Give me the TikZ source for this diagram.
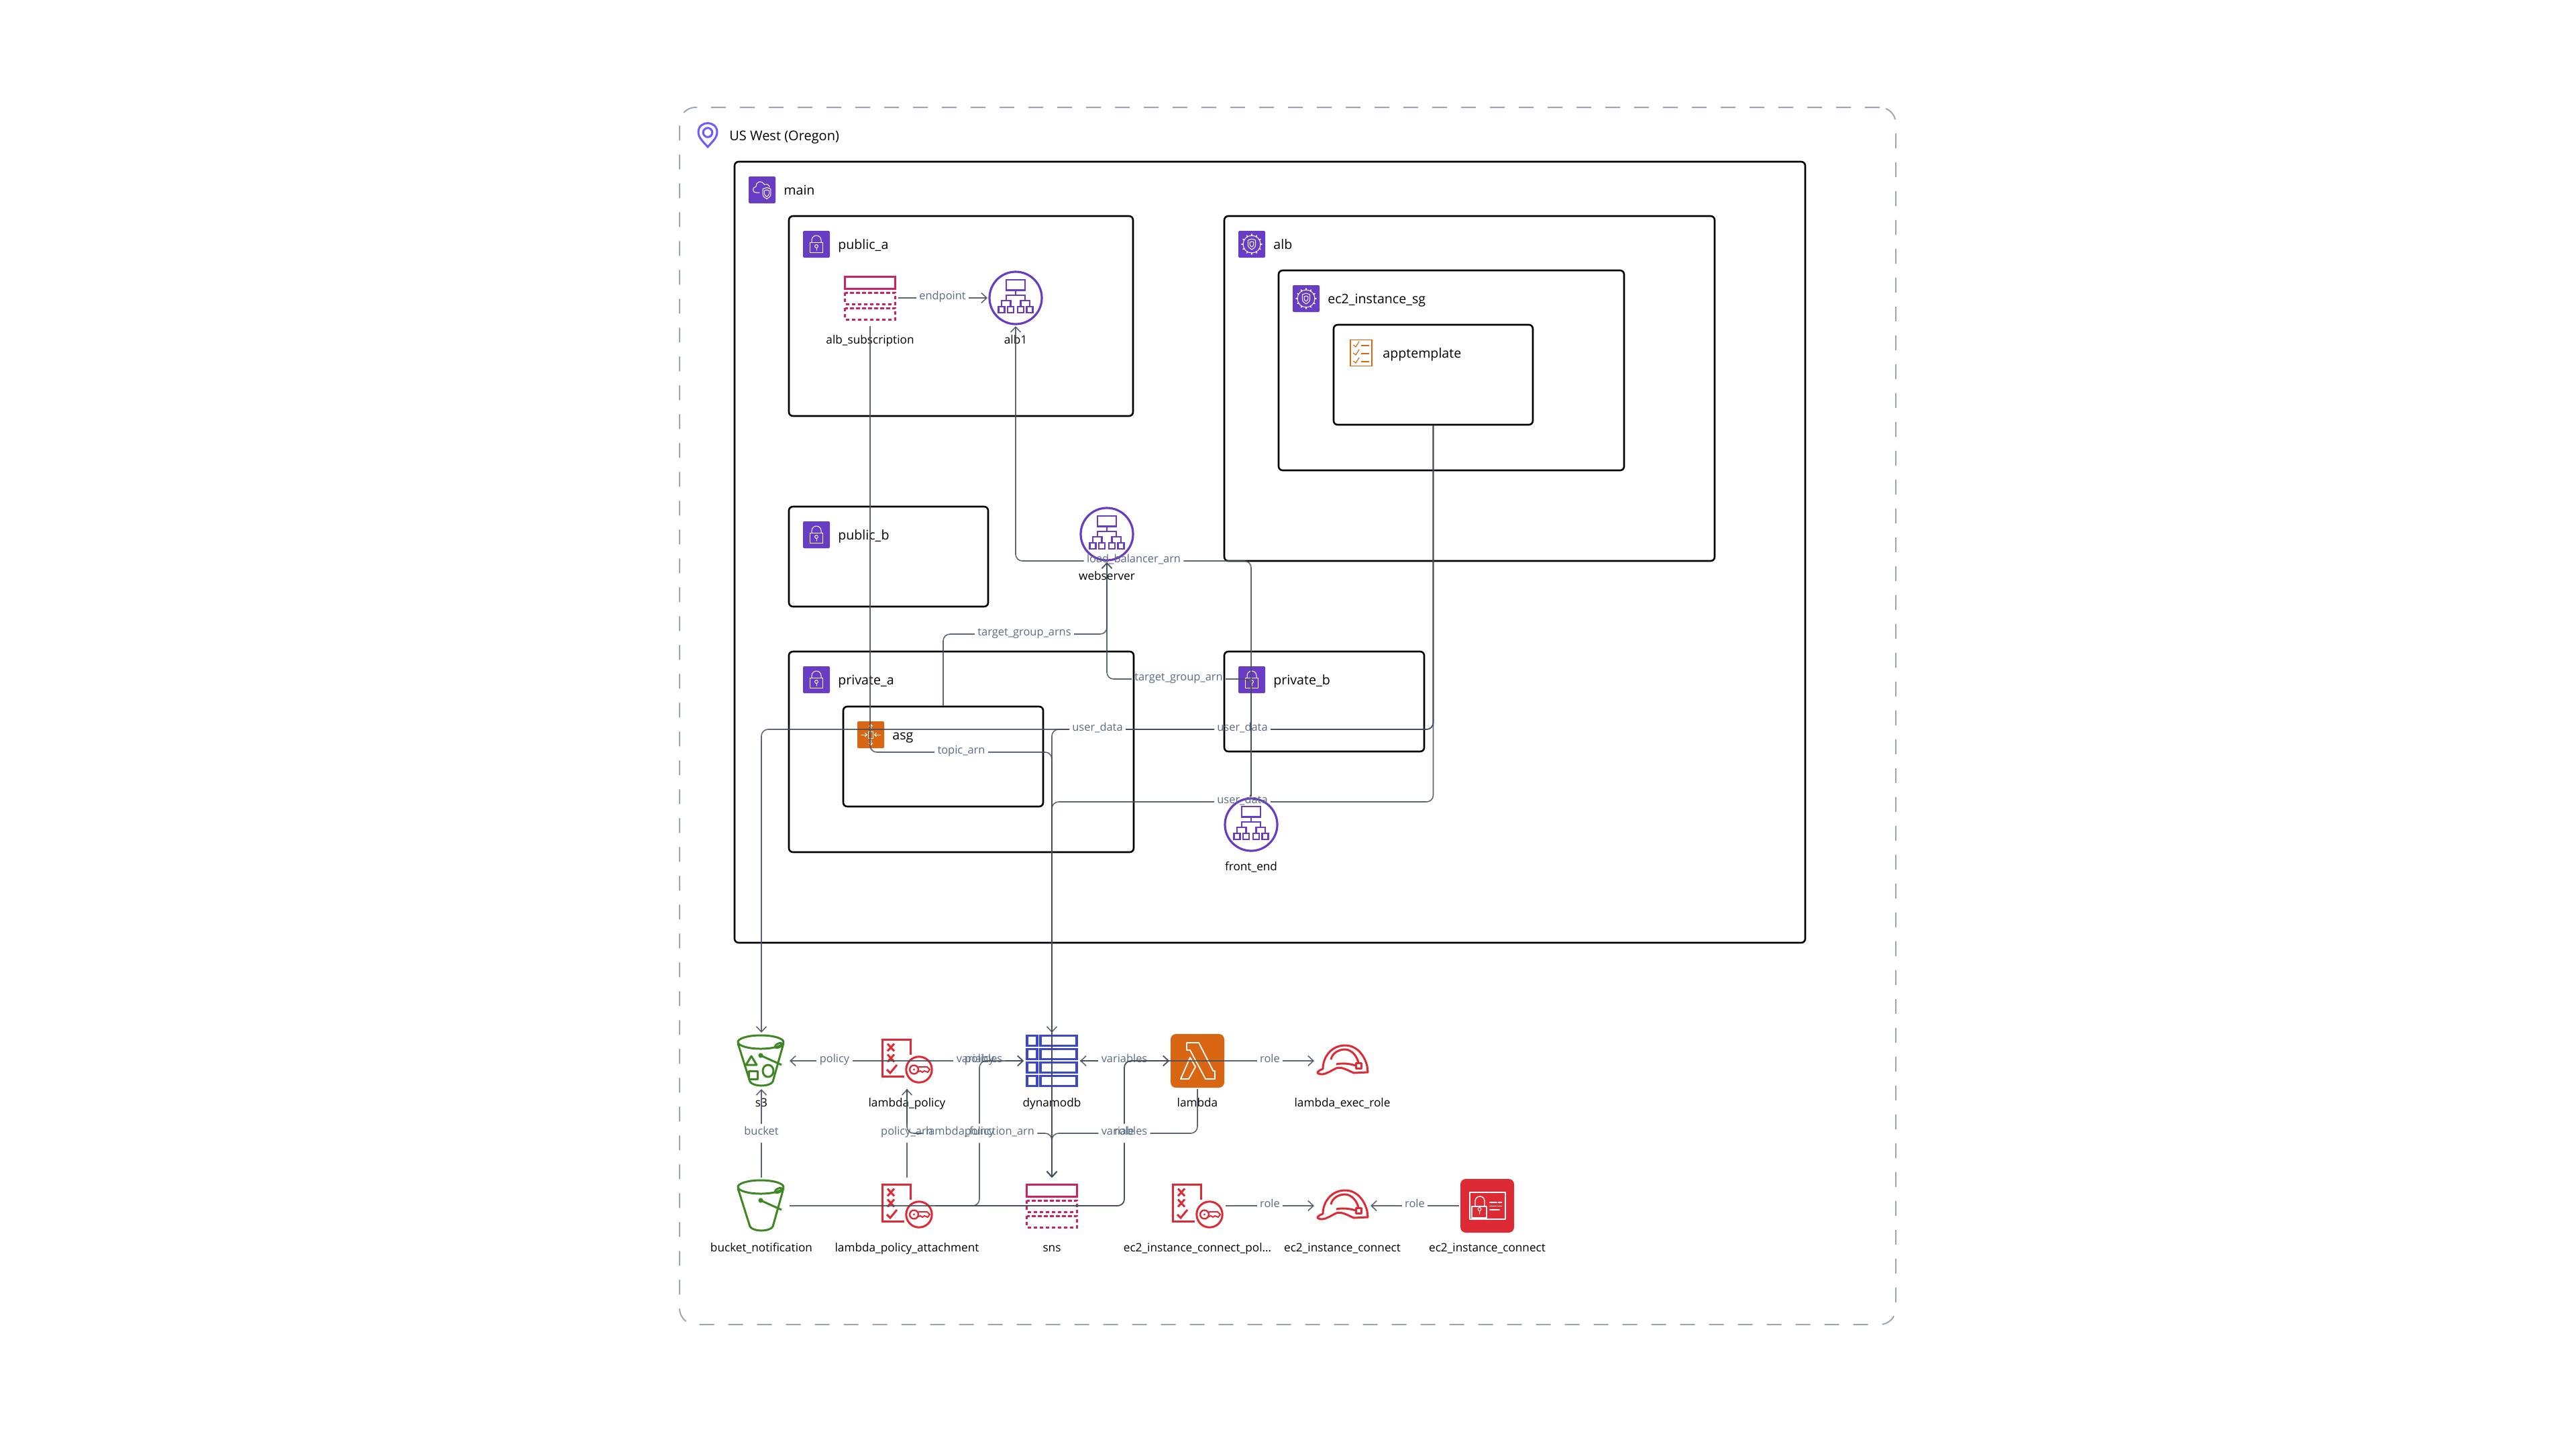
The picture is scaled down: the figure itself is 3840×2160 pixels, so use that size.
\documentclass[tikz,border=0pt]{standalone}
\usepackage{fontspec}
\setmainfont{Open Sans}
\usetikzlibrary{arrows.meta,calc,fit}
\definecolor{awspurple}{HTML}{693CC5}
\definecolor{awsorange}{HTML}{D86613}
\definecolor{awsred}{HTML}{DD2A35}
\definecolor{awspink}{HTML}{CC2264}
\definecolor{awsgreen}{HTML}{3F8624}
\definecolor{awsblue}{HTML}{3B48CC}
\definecolor{edgecol}{HTML}{434C5C}
\definecolor{labelcol}{HTML}{5A6B86}
\definecolor{pincol}{HTML}{6C5CFF}
\tikzset{
    regionbox/.style={draw=black,line width=1.3pt,rounded corners=3pt,inner sep=0pt},
    regionicon/.style={rounded corners=1pt,minimum size=20pt,inner sep=0pt},
    regiontext/.style={anchor=west,inner sep=0pt,text height=8.4pt,text depth=1.2pt,font=\fontsize{9.8}{11}\selectfont},
    resbox/.style={minimum size=40pt,inner sep=0pt,outer sep=1pt},
    restext/.style={inner sep=0pt,yshift=-31pt,text height=7.6pt,text depth=1pt,font=\fontsize{8.6}{10}\selectfont},
    edgelabel/.style={text=labelcol,inner xsep=2pt,inner ysep=2.5pt,text height=5.5pt,text depth=3.5pt,font=\fontsize{8.2}{9}\selectfont},
    edgeline/.style={->,draw=edgecol,draw opacity=.85,line width=.8pt,rounded corners=5pt,>={Straight Barb[length=4pt,width=7.5pt]}},
    glyph/.style={white,line width=.5pt,line join=round,line cap=round},
}
\newcommand\Region[8][awspurple]{%
    \coordinate (#2tl) at (#3,#4);%
    \coordinate (#2br) at (#5,#6);%
    \node[regionbox,fit=(#2tl)(#2br)] (#2) {};%
    \node[regionicon,fill=#1] (#2icon) at ($(#2tl)+(41,42)$) {};%
    \node[regiontext] (#2text) at ($(#2tl)+(73,42)$) {#7};%
    #8{#2icon}%
}
\newcommand\LockIcon[1]{%
    \begin{scope}[shift={(#1.center)},glyph]
        \draw (-9.5,-3) rectangle (9.5,12.5);
        \draw (-7,-3) -- (-7,-6) arc[start angle=180,end angle=0,radius=3.5pt] -- (7,-3);
        \draw (0,3) circle[radius=1.2pt];
        \draw (0,5.5) -- (0,9);
    \end{scope}%
}
\newcommand\ShieldShape{%
    \draw (0,-10) .. controls (-3,-8) .. (-7,-7.5) -- (-7,1) .. controls (-7,6) and (-3,8) .. (0,10)
        .. controls (3,8) and (7,6) .. (7,1) -- (7,-7.5) .. controls (3,-8) .. cycle;%
}
\newcommand\CloudIcon[1]{%
    \begin{scope}[shift={(#1.center)},glyph]
        \draw (-4,4) -- (-9,4) .. controls (-15,4) and (-15,-4) .. (-9,-5)
            .. controls (-9,-13) and (0,-15) .. (3,-8) .. controls (7,-10) and (11,-7) .. (11,-4);
        \begin{scope}[shift={(7,5)},scale=.85]
            \ShieldShape
            \begin{scope}[scale=.6]\ShieldShape\end{scope}
        \end{scope}
    \end{scope}%
}
\newcommand\GearIcon[1]{%
    \begin{scope}[shift={(#1.center)},glyph]
        \draw (0,0) circle[radius=6.5pt];
        \foreach \a in {0,30,...,330} {
            \draw[line width=.8pt] (\a:13) -- (\a:15);
        }
        \begin{scope}[scale=.8]
            \ShieldShape
            \begin{scope}[scale=.5]\ShieldShape\end{scope}
        \end{scope}
    \end{scope}%
}
\newcommand\ScaleIcon[1]{%
    \begin{scope}[shift={(#1.center)},glyph,>={Straight Barb[length=1.5pt,width=3pt]},line width=.5pt]
        \draw (-3.5,-5) rectangle (3.5,5);
        \draw[->] (-14,0) -- (-5,0);
        \draw[->] (14,0) -- (5,0);
        \draw[->] (0,-8) -- (0,-16);
        \draw[->] (0,8) -- (0,16);
    \end{scope}%
}
\newcommand\ListIcon[1]{%
    \begin{scope}[shift={(#1.center)},awsorange,line width=.7pt]
        \draw (-16,-19.5) rectangle (16,19.5);
        \foreach \y in {-12,0,12} {
            \draw[line width=.6pt] (-12,\y) -- (-8,\y+3) -- (-3,\y-5);
            \draw[line width=.8pt] (0,\y+1) -- (12,\y+1);
        }
    \end{scope}%
}
\newcommand\BalancerIcon[1]{%
    \begin{scope}[shift={(#1.center)},awspurple,line width=1.2pt]
        \draw[line width=1.6pt] (0,0) circle[radius=19.5pt];
        \draw (-14,-27) rectangle (14,-11.5);
        \draw (0,-11.5) -- (0,-4) (-14,4) |- (14,-4) -- (14,4);
        \draw (-21,13) |- (-7.5,4) -- (-7.5,13);
        \draw (7.5,13) |- (21,4) -- (21,13);
        \foreach \x in {-21,-7.5,7.5,21} {
            \draw (\x-4.5,13) rectangle (\x+4.5,22);
        }
    \end{scope}%
}
\newcommand\TableIcon[1]{%
    \begin{scope}[shift={(#1.center)},awspink,line width=1.5pt]
        \draw (-37.5,-32) rectangle (37.5,-14);
        \draw[dash pattern=on 2.6pt off 1.9pt] (-37.5,-8) rectangle (37.5,9);
        \draw[dash pattern=on 2.6pt off 1.9pt] (-37.5,15) rectangle (37.5,32);
    \end{scope}%
}
\newcommand\PolicyIcon[1]{%
    \begin{scope}[shift={(#1.center)},awsred,line width=1.5pt]
        \draw (5,-9) -- (5,-32) -- (-37,-32) -- (-37,23) -- (-4,23);
        \draw (18,13) circle[radius=9.6pt];
        \foreach \y in {-20,-4} {
            \draw (-29,\y-5.5) -- (-19,\y+5.5) (-19,\y-5.5) -- (-29,\y+5.5);
        }
        \draw (-30,13) -- (-25,18) -- (-15,6);
        \draw[line width=1.2pt] (10.5,13) circle[radius=3.2pt];
        \fill (10.5,13) circle[radius=.8pt];
        \draw[line width=1pt] (17,9) -- (30,9) -- (34,13) -- (31,17) -- (26,15) -- (23,17) -- (20,15) -- (17,16);
    \end{scope}%
}
\newcommand\BucketIcon[2]{%
    \begin{scope}[shift={(#1.center)},awsgreen,line width=1.5pt,line join=round]
        \draw (-1,-28) ellipse[x radius=17pt,y radius=5pt];
        \draw (-35,-26) -- (-17,31) .. controls (-12,39) and (12,39) .. (17,31) -- (33,-26);
        \fill (-1,-8) circle[radius=1.8pt];
        \draw (-1,-8) -- (30,6);
        \draw[rotate=25] (33,-10) ellipse[x radius=3pt,y radius=1.4pt];
        #2
    \end{scope}%
}
\newcommand\GridIcon[1]{%
    \begin{scope}[shift={(#1.center)},awsblue,line width=1.7pt]
        \foreach \y in {-30,-10,10,30} {
            \draw (-37,\y-7.5) rectangle (-22,\y+7.5);
            \draw (-17,\y-7.5) rectangle (37,\y+7.5);
        }
    \end{scope}%
}
\newcommand\LambdaIcon[1]{%
    \fill[awsorange,rounded corners=4pt] ($(#1.center)+(-40,-40)$) rectangle ($(#1.center)+(40,40)$);%
    \begin{scope}[shift={(#1.center)},glyph,line width=.9pt]
        \draw (-16,-27) -- (2,-27) -- (23.5,15) -- (26,15) -- (26,27) -- (12,27) -- (-11,-16) -- (-16,-16) -- cycle;
        \draw (-11,-5) -- (-3,9) -- (-13,27) -- (-25,27) -- cycle;
    \end{scope}%
}
\newcommand\HelmetIcon[1]{%
    \begin{scope}[shift={(#1.center)},awsred,line width=1.5pt,line join=round]
        \draw (-37,17) .. controls (-35,14) and (-31,13) .. (-29,12) .. controls (-29,-6) and (-16,-23) .. (4,-23)
            .. controls (22,-23) and (33,-8) .. (37,8) -- (38,17) -- (17,18) .. controls (8,14) and (-2,8) .. (-9,11)
            .. controls (-16,14) and (-22,19) .. (-30,20) .. controls (-34,20) and (-37,19) .. (-37,17) -- cycle;
        \draw (-17,-2) .. controls (-15,-12) and (-5,-17) .. (4,-17) .. controls (14,-17) and (23,-6) .. (24,4);
        \draw (-9,5) .. controls (0,3) and (10,4) .. (20,7);
        \draw (20,3) rectangle (28,11);
    \end{scope}%
}
\newcommand\ConnectIcon[1]{%
    \fill[awsred,rounded corners=4pt] ($(#1.center)+(-40,-40)$) rectangle ($(#1.center)+(40,40)$);%
    \begin{scope}[shift={(#1.center)},glyph]
        \draw[line width=.7pt] (-26,-20) rectangle (27,20);
        \draw[line width=.7pt] (-23,1) rectangle (-1,18);
        \draw[line width=.7pt] (-18,1) -- (-18,-7) arc[start angle=180,end angle=0,radius=3.5pt] -- (-4,1);
        \draw (-11.5,5) circle[radius=1.2pt] (-11.5,7.5) -- (-11.5,12);
        \draw[line width=.8pt] (4,-5.3) -- (14,-5.3) (16.5,-5.3) -- (21.5,-5.3);
        \draw[line width=.8pt] (4,.5) -- (13,.5) (15.5,.5) -- (21.5,.5);
        \draw[line width=.8pt] (4,6) -- (18,6);
    \end{scope}%
}

\begin{document}
\begin{tikzpicture}[x=.5pt,y=-.5pt]
\fill[white] (0,0) rectangle (3840,2160);
\coordinate (uswesttl) at (1013,160);
\coordinate (uswestbr) at (2826,1974);
\node[regionbox,draw=labelcol!60,line width=1pt,rounded corners=12pt,dash pattern=on 11pt off 10.5pt,fit=(uswesttl)(uswestbr)] (uswest) {};
\node[regiontext,font=\fontsize{10}{12}\selectfont] (uswesttext) at (1087,202) {US West (Oregon)};
\draw[line width=1.5pt,pincol] (1055,219) .. controls (1048,211) and (1041,205) .. (1041,197)
    .. controls (1041,179) and (1069,179) .. (1069,197) .. controls (1069,205) and (1062,211) .. (1055,219) -- cycle;
\draw[line width=1.5pt,pincol] (1055,197.5) circle[radius=3.4pt];

\Region{main}{1095}{241}{2691}{1405}{main}{\CloudIcon}
\Region{publica}{1176}{322}{1689}{620}{public\_a}{\LockIcon}
\Region{publicb}{1176}{755}{1473}{904}{public\_b}{\LockIcon}
\Region{privatea}{1176}{971}{1690}{1270}{private\_a}{\LockIcon}
\Region{privateb}{1825}{971}{2123}{1120}{private\_b}{\LockIcon}
\Region[awsorange]{asg}{1257}{1053}{1555}{1202}{asg}{\ScaleIcon}
\Region{alb}{1825}{322}{2556}{836}{alb}{\GearIcon}
\Region{ecsg}{1906}{403}{2421}{701}{ec2\_instance\_sg}{\GearIcon}
\Region[white]{apptemplate}{1988}{484}{2285}{633}{apptemplate}{\ListIcon}

\foreach \n/\x/\y/\t in {
    albsub/1297/444/alb\_subscription, albone/1514/444/alb1,
    webserver/1650/796/webserver, frontend/1865/1229/front\_end,
    sthree/1135/1581/s3, lambdapolicy/1352/1581/lambda\_policy,
    dynamodb/1568/1581/dynamodb, lambda/1785/1581/lambda,
    execrole/2001/1581/lambda\_exec\_role, bucketnote/1135/1797/bucket\_notification,
    attachment/1352/1797/lambda\_policy\_attachment, sns/1568/1797/sns,
    ecpolicy/1785/1797/ec2\_instance\_connect\_pol…, ecrole/2001/1797/ec2\_instance\_connect,
    ecconnect/2217/1797/ec2\_instance\_connect} {
    \node[resbox] (\n) at (\x,\y) {};
    \node[restext] (\n text) at (\n.center) {\t};
}
\TableIcon{albsub}
\BalancerIcon{albone}
\BalancerIcon{webserver}
\BalancerIcon{frontend}
\BucketIcon{sthree}{
    \draw (-15,-7) -- (-23,6) -- (-7,6) -- cycle;
    \draw (-19,15) rectangle (-6,27);
    \draw (10,15) ellipse[x radius=4pt,y radius=4.5pt];
}
\BucketIcon{bucketnote}{}
\PolicyIcon{lambdapolicy}
\PolicyIcon{attachment}
\PolicyIcon{ecpolicy}
\GridIcon{dynamodb}
\LambdaIcon{lambda}
\HelmetIcon{execrole}
\HelmetIcon{ecrole}
\TableIcon{sns}
\ConnectIcon{ecconnect}

\foreach \n/\x/\y/\t in {
    endpoint/1405/444/endpoint, topic/1433/1121/topic\_arn,
    lbarn/1690/836/load\_balancer\_arn, tgarns/1527/945/target\_group\_arns,
    tgarn/1757/1012/target\_group\_arn, udone/1636/1087/user\_data,
    udtwo/1852/1087/user\_data, udthree/1852/1195/user\_data,
    policyone/1244/1581/policy, varsone/1460/1581/variables,
    policytwo/1460/1581/policy, varstwo/1676/1581/variables,
    roleexec/1893/1581/role, bucketarn/1135/1689/bucket,
    policyarn/1352/1689/policy\_arn, lfa/1461/1689/lambda\_function\_arn,
    policythree/1460/1689/policy, varsthree/1676/1689/variables,
    roletwo/1676/1689/role, rolethree/1893/1797/role, rolefour/2109/1797/role} {
    \node[edgelabel] (\n) at (\x,\y) {\t};
}

\draw[edgeline] (albsub.east) -- (endpoint.west) (endpoint.east) -- (albone.west);
\draw[edgeline] (albsub.south) |- (topic.west) (topic.east) -| (sns.north);
\draw[edgeline] (frontend.north) |- (lbarn.east) (lbarn.west) -| (albone.south);
\draw[edgeline] (asg.north) |- (tgarns.west) (tgarns.east) -| (webserver.south);
\draw[edgeline] (frontend.north) |- (tgarn.east) (tgarn.west) -| (webserver.south);
\draw[edgeline] (apptemplate.south) |- (udtwo.east) (udtwo.west) -- (udone.east) (udone.west) -| (sthree.north);
\draw[edgeline] (apptemplate.south) |- (udtwo.east) (udtwo.west) -- (udone.east) (udone.west) -| (dynamodb.north);
\draw[edgeline] (apptemplate.south) |- (udthree.east) (udthree.west) -| (sns.north);
\draw[edgeline] (lambdapolicy.east) -- (policyone.east) (policyone.west) -- (sthree.east);
\draw[edgeline] (lambdapolicy.east) -- (varsone.west) (varsone.east) -- (dynamodb.west);
\draw[edgeline] (attachment.east) -| (policythree.south) (policythree.north) |- (dynamodb.west);
\draw[edgeline] (dynamodb.east) -- (varstwo.west) (varstwo.east) -- (lambda.west);
\draw[edgeline] (lambda.west) -- (varstwo.east) (varstwo.west) -- (dynamodb.east);
\draw[edgeline] (bucketnote.east) -| (roletwo.south) (roletwo.north) |- (lambda.west);
\draw[edgeline] (attachment.east) -| (roletwo.south) (roletwo.north) |- (roleexec.west) (roleexec.east) -- (execrole.west);
\draw[edgeline] (bucketnote.north) -- (bucketarn.south) (bucketarn.north) -- (sthree.south);
\draw[edgeline] (attachment.north) -- (policyarn.south) (policyarn.north) -- (lambdapolicy.south);
\draw[edgeline] (lambdapolicy.south) |- (lfa.west) (lfa.east) -| (sns.north);
\draw[edgeline] (lambda.south) |- (varsthree.east) (varsthree.west) -| (sns.north);
\draw[edgeline] (ecpolicy.east) -- (rolethree.west) (rolethree.east) -- (ecrole.west);
\draw[edgeline] (ecconnect.west) -- (rolefour.east) (rolefour.west) -- (ecrole.east);
\end{tikzpicture}
\end{document}
